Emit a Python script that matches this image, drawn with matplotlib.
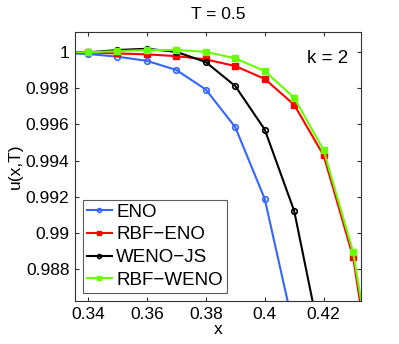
import matplotlib
matplotlib.use("Agg")
import matplotlib.pyplot as plt

plt.rcParams["font.family"] = ["Liberation Sans", "DejaVu Sans"]

# grid points
x = [0.33, 0.34, 0.35, 0.36, 0.37, 0.38, 0.39, 0.40, 0.41, 0.42, 0.43, 0.44]

# u(x,T)
eno = [0.99997, 0.99991, 0.99976, 0.99953, 0.99902, 0.99794, 0.99585, 0.99187, 0.98457, 0.975, 0.965, 0.955]
rbf_eno = [1.0, 1.0, 0.99994, 0.99989, 0.99979, 0.99961, 0.99924, 0.99853, 0.99709, 0.99428, 0.98864, 0.978]
weno_js = [1.0, 1.0, 1.00013, 1.0002, 1.00003, 0.99946, 0.99813, 0.99572, 0.9912, 0.98318, 0.972, 0.96]
rbf_weno = [1.0, 1.0, 1.00007, 1.00013, 1.00013, 1.00003, 0.99967, 0.99896, 0.99748, 0.99457, 0.98892, 0.979]

labels = ["ENO", "RBF\u2212ENO", "WENO\u2212JS", "RBF\u2212WENO"]
colors = ["#3366ff", "#ff0000", "#000000", "#66ff00"]
markers = ["o", "s", "o", "s"]

fig = plt.figure(figsize=(3.99, 3.44), dpi=100)
ax = fig.add_axes([0.188, 0.125, 0.717, 0.782])

for ys, lab, c, m in zip([eno, rbf_eno, weno_js, rbf_weno], labels, colors, markers):
    if m == "o":
        ax.plot(x, ys, color=c, marker=m, markersize=4, markerfacecolor="none",
                markeredgewidth=1.2, linewidth=1.5, label=lab)
    else:
        ax.plot(x, ys, color=c, marker=m, markersize=4, linewidth=1.5, label=lab)

ax.set_xlim(0.3356, 0.4327)
ax.set_ylim(0.98621, 1.00113)
ax.set_xticks([0.34, 0.36, 0.38, 0.40, 0.42])
ax.set_xticklabels(["0.34", "0.36", "0.38", "0.4", "0.42"])
ax.set_yticks([0.988, 0.990, 0.992, 0.994, 0.996, 0.998, 1.0])
ax.set_yticklabels(["0.988", "0.99", "0.992", "0.994", "0.996", "0.998", "1"])
ax.tick_params(direction="in", top=True, right=True, labelsize=12.5, length=3, colors="#333333",
               labelcolor="black", pad=4)
for s in ax.spines.values():
    s.set_color("#333333")
    s.set_linewidth(0.8)

ax.set_xlabel("x", fontsize=12.5, labelpad=0)
ax.set_ylabel("u(x,T)", fontsize=12.5, labelpad=2)
ax.set_title("T = 0.5", fontsize=12.5, pad=9)
ax.text(0.4215, 0.99965, "k = 2", fontsize=13.5, ha="center", va="center")

leg = ax.legend(loc="lower left", fontsize=13.5, handlelength=1.3, handletextpad=0.25,
                borderpad=0.2, labelspacing=0.3, fancybox=False, markerscale=0.7,
                borderaxespad=0.45)
leg.get_frame().set_edgecolor("#333333")
leg.get_frame().set_linewidth(0.8)

fig.savefig("out.png", dpi=100)
